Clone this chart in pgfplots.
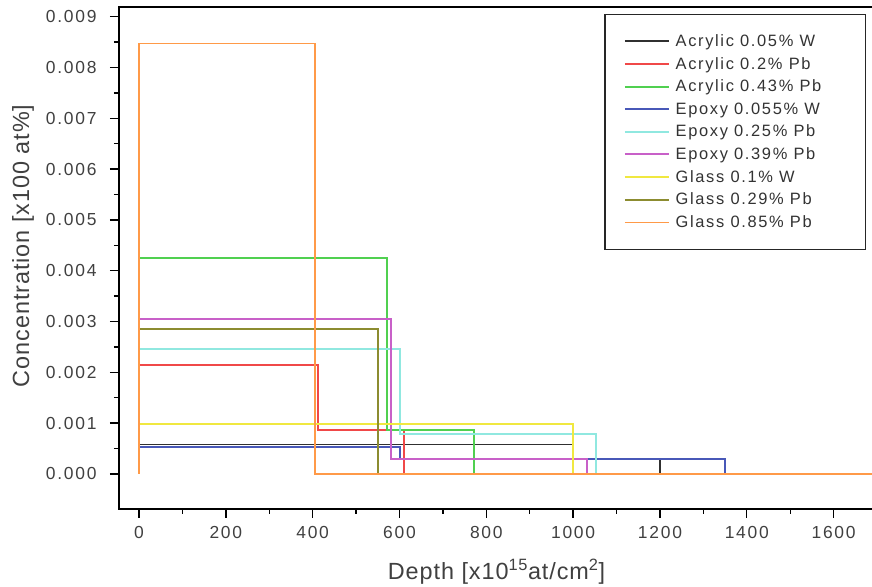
\documentclass[border=0pt]{standalone}
\usepackage{fontspec}
\setmainfont{Liberation Sans}
\newfontfamily\legfont[LetterSpace=10]{Liberation Sans}
\newfontfamily\tickfont[LetterSpace=10]{Liberation Sans}
\newfontfamily\labfont[LetterSpace=4]{Liberation Sans}
\usepackage{pgfplots}
\pgfplotsset{compat=1.18}

\definecolor{cblack}{HTML}{303030}
\definecolor{cred}{HTML}{F04848}
\definecolor{cgreen}{HTML}{50D050}
\definecolor{cblue}{HTML}{4858B8}
\definecolor{ccyan}{HTML}{90E8E0}
\definecolor{cmag}{HTML}{C860C8}
\definecolor{cyel}{HTML}{F0E840}
\definecolor{colive}{HTML}{8C8C30}
\definecolor{corange}{HTML}{FF9A48}

\begin{document}
\begin{tikzpicture}
\begin{axis}[
  scale only axis, width=755bp, height=502bp,
  xmin=-46, xmax=1693, ymin=-0.00069, ymax=0.00919,
  xtick={0,200,400,600,800,1000,1200,1400,1600},
  ytick={0,0.001,0.002,0.003,0.004,0.005,0.006,0.007,0.008,0.009},
  minor x tick num=1, minor y tick num=1,
  tick align=outside, tick pos=left,
  major tick length=9bp, minor tick length=5bp,
  every tick/.style={black, line width=1.4bp},
  axis line style={line width=1.5bp, black},
  scaled y ticks=false,
  /pgf/number format/set thousands separator={},
  yticklabel style={xshift=-10bp, /pgf/number format/.cd, fixed, fixed zerofill, precision=3},
  xticklabel style={yshift=-5bp},
  /pgf/number format/assume math mode=true,
  ticklabel style={font=\tickfont\fontsize{17.5}{20}\selectfont, text=black!75},
  label style={font=\labfont\fontsize{23.5}{27}\selectfont, text=black!75},
  xlabel={Depth [x10\textsuperscript{15}at/cm\textsuperscript{2}]},
  ylabel={Concentration [x100 at\%]},
  xlabel style={at={(axis description cs:0.5,-0.125)}, anchor=center},
  ylabel style={at={(axis description cs:-0.127,0.524)}, anchor=center, rotate=0},
  legend cell align=left,
  legend image code/.code={\draw[#1, line width=1.8bp] (0bp,0bp) -- (44bp,0bp);},
  legend style={at={(axis description cs:0.9894,0.986)}, anchor=north east,
    draw=black!85, line width=1.3bp, inner xsep=19bp, inner ysep=18bp,
    row sep=5.3bp, column sep=4bp, font=\legfont\fontsize{16.5}{19}\selectfont, text=black!80},
  every axis plot/.append style={line width=1.8bp},
]
\coordinate (sw) at (rel axis cs:0,0);
\coordinate (ne) at (rel axis cs:1,1);
\addplot[cblack] coordinates {(0,0) (0,0.00058) (1000,0.00058) (1000,0.0003) (1200,0.0003) (1200,0)};
\addplot[cred] coordinates {(0,0) (0,0.00215) (412,0.00215) (412,0.00087) (610,0.00087) (610,0)};
\addplot[cgreen] coordinates {(0,0) (0,0.00425) (571,0.00425) (571,0.00086) (772,0.00086) (772,0)};
\addplot[cblue] coordinates {(0,0) (0,0.00053) (601,0.00053) (601,0.0003) (1350,0.0003) (1350,0)};
\addplot[ccyan] coordinates {(0,0) (0,0.00246) (601,0.00246) (601,0.00079) (1053,0.00079) (1053,0)};
\addplot[cmag] coordinates {(0,0) (0,0.00305) (581,0.00305) (581,0.0003) (1032,0.0003) (1032,0)};
\addplot[cyel] coordinates {(0,0) (0,0.00098) (1000,0.00098) (1000,0)};
\addplot[colive] coordinates {(0,0) (0,0.00285) (551,0.00285) (551,0)};
\addplot[corange] coordinates {(0,0) (0,0.00847) (405,0.00847) (405,0) (1700,0)};
\legend{Acrylic 0.05\% W, Acrylic 0.2\% Pb, Acrylic 0.43\% Pb\hspace*{23bp}, Epoxy 0.055\% W, Epoxy 0.25\% Pb, Epoxy 0.39\% Pb, Glass 0.1\% W, Glass 0.29\% Pb, Glass 0.85\% Pb}
\end{axis}
\pgfresetboundingbox
\path ([xshift=-119bp,yshift=-78bp]sw) rectangle ([xshift=-2bp,yshift=7bp]ne);
\end{tikzpicture}
\end{document}
